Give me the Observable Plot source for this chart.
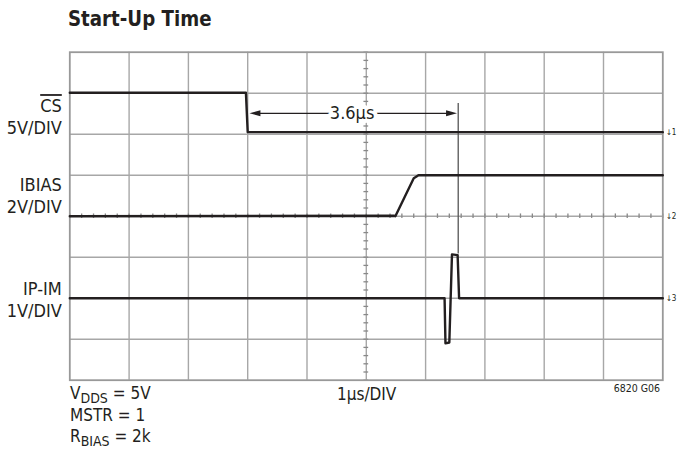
<!DOCTYPE html>
<html>
<head>
<meta charset="utf-8">
<script src="https://cdn.jsdelivr.net/npm/d3@7"></script>
<script src="https://cdn.jsdelivr.net/npm/@observablehq/plot@0.6"></script>
<style>
  html, body { margin: 0; padding: 0; background: #fff; }
  #wrap { position: relative; width: 679px; height: 451px; overflow: hidden;
          font-family: "Liberation Sans Narrow", "DejaVu Sans Condensed", "Liberation Sans", sans-serif; color: #231f20; }
  #title { height: 38px; line-height: 38px; padding-left: 68px; font-size: 22px; font-weight: bold; }
  #title span { display: inline-block; transform: scaleX(0.92); transform-origin: left center; }
  .note { position: absolute; font-size: 17px; line-height: 17px; white-space: nowrap; }
  .note sub { font-size: 14px; vertical-align: -4px; line-height: 0; }
  svg text { font-family: "Liberation Sans Narrow", "DejaVu Sans Condensed", "Liberation Sans", sans-serif; }
</style>
</head>
<body>
<div id="wrap">
  <div id="title"><span>Start-Up Time</span></div>
  <div id="chart"></div>
  <div class="note" style="left:70px; top:385px;">V<sub>DDS</sub> = 5V</div>
  <div class="note" style="left:70px; top:407px;">MSTR = 1</div>
  <div class="note" style="left:70px; top:428px;">R<sub>BIAS</sub> = 2k</div>
  <div class="note" style="left:337px; top:386px;">1µs/DIV</div>
  <div class="note" style="right:19px; top:383px; font-size:10.5px; line-height:10.5px;">6820 G06</div>
</div>
<script>
// ---- data (time in µs, values in volts) ----
const csTime    = [0, 2.97, 3.0, 10];
const csVolts   = [4.8, 4.8, 0, 0];
const ibTime    = [0, 5.47, 5.49, 5.80, 5.88, 10];
const ibVolts   = [0, 0.02, 0, 1.85, 2.0, 2.0];
const ipTime    = [0, 6.32, 6.335, 6.40, 6.445, 6.54, 6.565, 10];
const ipVolts   = [0, 0, -1.1, -1.08, 1.07, 1.05, 0, 0];

// channel settings: volts per division and ground level (in divisions from bottom)
const channels  = ["CS", "IBIAS", "IP-IM"];
const voltsPerDiv = [5, 2, 1];
const groundDiv   = [6.05, 4.0, 2.0];
const groundMark  = ["1", "2", "3"];

// scope graticule
const xDivs = [0, 1, 2, 3, 4, 5, 6, 7, 8, 9, 10];
const yDivs = [0, 1, 2, 3, 4, 5, 6, 7, 8];

// annotation: 3.6µs from CS falling edge to current spike
const annStart = 3.03, annEnd = 6.53, annLevel = 6.51, annMarkerT = 6.55;
const annMarkerTop = 6.75, annMarkerBottom = 3.08;
const annText = "3.6µs";

// channel labels: [text, y in divisions]
const labelText = ["CS", "5V/DIV", "IBIAS", "2V/DIV", "IP-IM", "1V/DIV"];
const labelDiv  = [6.68, 6.15, 4.75, 4.22, 2.21, 1.68];

// ---- build ----
function trace(ts, vs, ch) {
  return ts.map((t, i) => ({t, y: groundDiv[ch] + vs[i] / voltsPerDiv[ch], ch}));
}
const traces = [
  ...trace(csTime, csVolts, 0),
  ...trace(ibTime, ibVolts, 1),
  ...trace(ipTime, ipVolts, 2)
];
const minorX = d3.range(0, 10.001, 0.2);
const minorY = d3.range(0, 8.001, 0.2);
const labels = labelText.map((s, i) => ({s, y: labelDiv[i]}));
const grounds = groundMark.map((s, i) => ({s, y: groundDiv[i]}));

const arrowHead = {
  draw(context, size) {
    const l = Math.sqrt(size) * 0.95;
    context.moveTo(0, 0);
    context.lineTo(-l, -l * 0.27);
    context.lineTo(-l, l * 0.27);
    context.closePath();
  }
};

const ink = "#231f20";
const gridColor = "#a7a7a7";

const plot = Plot.plot({
  width: 679,
  height: 346,
  marginLeft: 69.3,
  marginRight: 16.7,
  marginTop: 13.7,
  marginBottom: 4.3,
  x: {domain: [0, 10], axis: null},
  y: {domain: [0, 8], axis: null},
  marks: [
    Plot.ruleX(xDivs.slice(1, -1), {stroke: gridColor, strokeWidth: 1.4}),
    Plot.ruleY(yDivs.slice(1, -1), {stroke: gridColor, strokeWidth: 1.4}),
    // minor ticks on the centre lines
    Plot.ruleX(minorX, {y1: 4 - 0.055, y2: 4 + 0.055, stroke: "#888", strokeWidth: 1.3}),
    Plot.ruleY(minorY, {x1: 5 - 0.04, x2: 5 + 0.04, stroke: "#888", strokeWidth: 1.3}),
    Plot.frame({stroke: "#999", strokeWidth: 1.8}),
    // annotation
    Plot.ruleX([annMarkerT], {y1: annMarkerBottom, y2: annMarkerTop, stroke: "#555", strokeWidth: 1.3}),
    Plot.ruleY([annLevel], {x1: annStart + 0.15, x2: annEnd - 0.15, stroke: ink, strokeWidth: 1.2}),
    Plot.dot([annEnd], {x: d => d, y: annLevel, symbol: arrowHead, r: 6.5, fill: ink, stroke: null}),
    Plot.dot([annStart], {x: d => d, y: annLevel, symbol: arrowHead, r: 6.5, rotate: 180, fill: ink, stroke: null}),
    Plot.text([annText], {x: (annStart + annEnd) / 2 - 0.02, y: annLevel, text: d => d, fontSize: 18, fill: ink, stroke: "white", strokeWidth: 8, textAnchor: "middle"}),
    // traces
    Plot.line(traces, {x: "t", y: "y", z: "ch", stroke: ink, strokeWidth: 2.4, strokeLinejoin: "round"}),
    // channel labels
    Plot.text(labels, {x: 0, y: "y", text: "s", dx: -8, textAnchor: "end", fontSize: 18, fill: ink}),
    // ground markers
    Plot.text(grounds, {x: 10, y: "y", text: d => "↓" + d.s, dx: 3, textAnchor: "start", fontSize: 8, fill: ink})
  ]
});
document.getElementById("chart").appendChild(plot);
d3.select(plot).selectAll("text").filter(function() { return this.textContent === "CS"; })
  .style("text-decoration", "overline");
</script>
</body>
</html>
